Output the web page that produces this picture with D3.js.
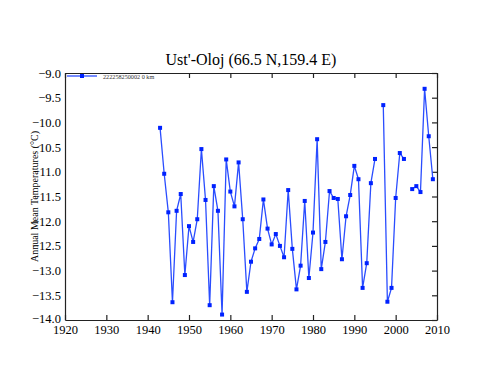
<!DOCTYPE html>
<html>
<head>
<meta charset="utf-8">
<script src="https://cdn.jsdelivr.net/npm/d3@7"></script>
<style>
  body { margin: 0; background: #fff; }
</style>
</head>
<body>
<div id="chart"></div>
<script>
// station data (null = missing year)
var years = d3.range(1943, 2010);
var temps = [
  -10.11, -11.04, -11.82, -13.64, -11.79, -11.45, -13.09, -12.10, -12.42, -11.96,
  -10.54, -11.57, -13.70, -11.29, -11.79, -13.89, -10.75, -11.40, -11.70, -10.81,
  -11.96, -13.43, -12.82, -12.55, -12.36, -11.56, -12.15, -12.47, -12.26, -12.50,
  -12.73, -11.37, -12.56, -13.38, -12.90, -11.59, -13.15, -12.23, -10.34, -12.97,
  -12.42, -11.39, -11.53, -11.55, -12.77, -11.90, -11.47, -10.88, -11.15, -13.35,
  -12.85, -11.23, -10.74, null, -9.65, -13.63, -13.35, -11.53, -10.62, -10.74,
  null, -11.35, -11.29, -11.41, -9.32, -10.28, -11.15
];
var xTicks = [1920, 1930, 1940, 1950, 1960, 1970, 1980, 1990, 2000, 2010];
var yTicks = [-9.0, -9.5, -10.0, -10.5, -11.0, -11.5, -12.0, -12.5, -13.0, -13.5, -14.0];
var seriesName = "222258250002 0 km";

var serif = "'Liberation Serif', 'Times New Roman', 'DejaVu Serif', serif";
var data = years.map(function(y, i) { return {year: y, value: temps[i]}; });

// set the dimensions and margins of the graph
var margin = {top: 73, right: 63, bottom: 66, left: 65},
    width = 500 - margin.left - margin.right,
    height = 386 - margin.top - margin.bottom;

var svg = d3.select("#chart")
  .append("svg")
    .attr("width", 500)
    .attr("height", 386)
  .append("g")
    .attr("transform", "translate(" + margin.left + "," + margin.top + ")");

var x = d3.scaleLinear().domain([1920, 2010]).range([0, width]);
var y = d3.scaleLinear().domain([-14, -9]).range([height, 0]);

// bottom axis, ticks pointing inward
var xAxis = svg.append("g")
  .attr("transform", "translate(0," + height + ")")
  .call(d3.axisBottom(x).tickValues(xTicks).tickFormat(d3.format("d")).tickSizeInner(-5).tickSizeOuter(0).tickPadding(5));
xAxis.attr("font-family", serif);
xAxis.selectAll("text").attr("font-size", 12.5).attr("fill", "#000");

// top axis
svg.append("g")
  .call(d3.axisTop(x).tickValues(xTicks).tickFormat("").tickSizeInner(-5).tickSizeOuter(0));

// left axis
var yAxis = svg.append("g")
  .call(d3.axisLeft(y).tickValues(yTicks).tickFormat(d3.format(".1f")).tickSizeInner(0).tickSizeOuter(0).tickPadding(4));
yAxis.attr("font-family", serif);
yAxis.selectAll("text").attr("font-size", 12.5).attr("fill", "#000");
// nudge the bottom label up a little so it clears the year labels
yAxis.selectAll("text").filter(function(d) { return d === -14; }).attr("dy", "0.2em");

// right axis
svg.append("g")
  .attr("transform", "translate(" + width + ",0)")
  .call(d3.axisRight(y).tickValues(yTicks).tickFormat("").tickSizeInner(-5).tickSizeOuter(0));

svg.selectAll(".domain, .tick line").attr("stroke", "#222").attr("stroke-width", 1.2);

// line
var line = d3.line()
  .defined(function(d) { return d.value !== null; })
  .x(function(d) { return x(d.year); })
  .y(function(d) { return y(d.value); });

svg.append("path")
  .datum(data)
  .attr("fill", "none")
  .attr("stroke", "#2a4dff")
  .attr("stroke-width", 1.3)
  .attr("d", line);

svg.selectAll("myRect")
  .data(data.filter(function(d) { return d.value !== null; }))
  .enter()
  .append("rect")
    .attr("x", function(d) { return x(d.year) - 2; })
    .attr("y", function(d) { return y(d.value) - 2; })
    .attr("width", 4)
    .attr("height", 4)
    .attr("fill", "#0022ff");

// legend
var legend = svg.append("g").attr("transform", "translate(2,3)");
legend.append("rect").attr("x", 0).attr("y", -2).attr("width", 92).attr("height", 6).attr("fill", "#fff");
legend.append("line").attr("x1", 0).attr("x2", 30).attr("y1", 0).attr("y2", 0)
  .attr("stroke", "#2a4dff").attr("stroke-width", 1.3);
legend.append("rect").attr("x", 13).attr("y", -2).attr("width", 4).attr("height", 4).attr("fill", "#0022ff");
legend.append("text").attr("x", 36).attr("y", 2.5)
  .attr("font-family", serif).attr("font-size", 6.2).attr("fill", "#333").text(seriesName);

// title
svg.append("text")
  .attr("x", width / 2)
  .attr("y", -8)
  .attr("text-anchor", "middle")
  .attr("font-family", serif)
  .attr("font-size", 16)
  .text("Ust'-Oloj (66.5 N,159.4 E)");

// y label
svg.append("text")
  .attr("transform", "rotate(-90)")
  .attr("x", -height / 2)
  .attr("y", -27)
  .attr("text-anchor", "middle")
  .attr("font-family", serif)
  .attr("font-size", 10)
  .text("Annual Mean Temperatures (\u00B0C)");
</script>
</body>
</html>
